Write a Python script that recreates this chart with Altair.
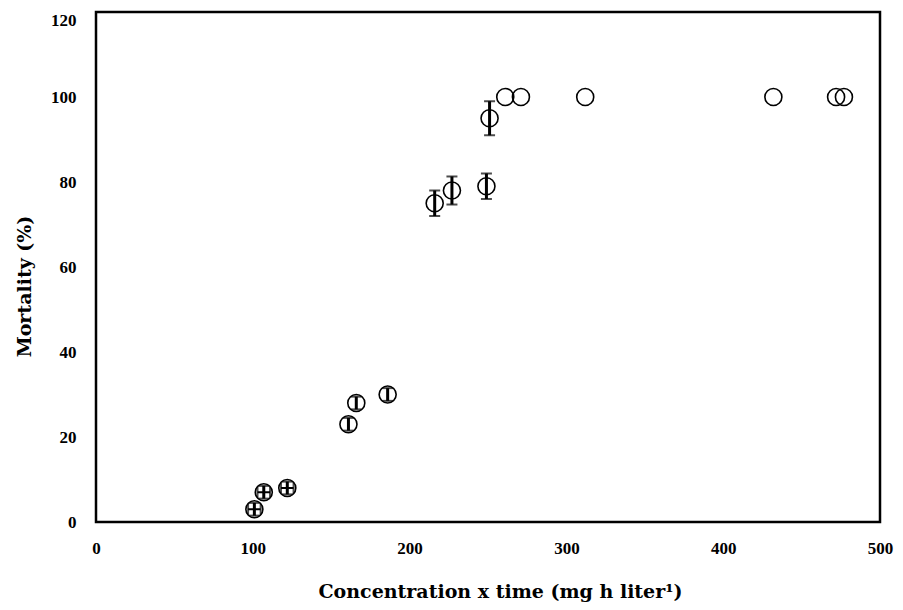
import altair as alt
import pandas as pd

# Data
conc = [101, 107, 122, 161, 166, 186, 216, 227, 249, 251, 261, 271, 312, 432, 472, 477]
mort = [3, 7, 8, 23, 28, 30, 75, 78, 79, 95, 100, 100, 100, 100, 100, 100]
yerr = [1.5, 1.5, 1.5, 1.5, 1.5, 1.5, 3.0, 3.3, 3.0, 4.0, 0, 0, 0, 0, 0, 0]
xerr = [4, 4, 4, 0, 0, 0, 0, 0, 0, 0, 0, 0, 0, 0, 0, 0]
x_ticks = [0, 100, 200, 300, 400, 500]
y_ticks = [0, 20, 40, 60, 80, 100, 120]

df = pd.DataFrame({"conc": conc, "mort": mort, "yerr": yerr, "xerr": xerr})
df["ylo"] = df["mort"] - df["yerr"]
df["yhi"] = df["mort"] + df["yerr"]
df["xlo"] = df["conc"] - df["xerr"]
df["xhi"] = df["conc"] + df["xerr"]

LABEL_FONT = "Liberation Serif"
TITLE_FONT = "DejaVu Serif"

xscale = alt.Scale(domain=[0, 500], nice=False, zero=False)
yscale = alt.Scale(domain=[0, 120], nice=False, zero=False)

xaxis = alt.Axis(
    values=x_ticks, title="Concentration x time (mg h liter\u00b9)",
    grid=False, ticks=False, domain=False, labelPadding=18,
    labelFont=LABEL_FONT, labelFontSize=17, labelFontWeight="bold", labelColor="black",
    titleFont=TITLE_FONT, titleFontSize=19, titleFontWeight="bold", titleColor="black",
    titlePadding=26, labelFlush=False, titleX=404,
)
yaxis = alt.Axis(
    values=y_ticks, title="Mortality (%)",
    grid=False, ticks=False, domain=False, labelPadding=20,
    labelFont=LABEL_FONT, labelFontSize=17, labelFontWeight="bold", labelColor="black",
    labelBaseline={"condition": {"test": "datum.value == 120", "value": "top"}, "value": "middle"},
    titleFont=TITLE_FONT, titleFontSize=19, titleFontWeight="bold", titleColor="black",
    titlePadding=16, labelFlush=False, titleY=274,
)

err_df = df[df["yerr"] > 0]
xerr_df = df[df["xerr"] > 0]

ybars = alt.Chart(err_df).mark_rule(color="black", strokeWidth=3).encode(
    x=alt.X("conc:Q", scale=xscale, axis=xaxis),
    y=alt.Y("ylo:Q", scale=yscale, axis=yaxis),
    y2="yhi:Q",
)
cap_lo = alt.Chart(err_df).mark_tick(color="black", orient="horizontal", size=11, thickness=2).encode(
    x=alt.X("conc:Q", scale=xscale), y=alt.Y("ylo:Q", scale=yscale)
)
cap_hi = alt.Chart(err_df).mark_tick(color="black", orient="horizontal", size=11, thickness=2).encode(
    x=alt.X("conc:Q", scale=xscale), y=alt.Y("yhi:Q", scale=yscale)
)
xbars = alt.Chart(xerr_df).mark_rule(color="black", strokeWidth=2).encode(
    x=alt.X("xlo:Q", scale=xscale), x2="xhi:Q", y=alt.Y("mort:Q", scale=yscale)
)
xcap_lo = alt.Chart(xerr_df).mark_tick(color="black", orient="vertical", size=11, thickness=2).encode(
    x=alt.X("xlo:Q", scale=xscale), y=alt.Y("mort:Q", scale=yscale)
)
xcap_hi = alt.Chart(xerr_df).mark_tick(color="black", orient="vertical", size=11, thickness=2).encode(
    x=alt.X("xhi:Q", scale=xscale), y=alt.Y("mort:Q", scale=yscale)
)
points = alt.Chart(df).mark_point(shape="circle", filled=False, size=290, color="black", strokeWidth=1.6, opacity=1).encode(
    x=alt.X("conc:Q", scale=xscale), y=alt.Y("mort:Q", scale=yscale)
)

chart = alt.layer(ybars, cap_lo, cap_hi, xbars, xcap_lo, xcap_hi, points).properties(
    width=784, height=510,
    autosize=alt.AutoSizeParams(type="none"),
    padding={"left": 88, "top": 4, "right": 15, "bottom": 80},
    background="white",
).configure_view(stroke="black", strokeWidth=2.5)

chart.save("out.html", embed_options={"renderer": "svg", "actions": False})
